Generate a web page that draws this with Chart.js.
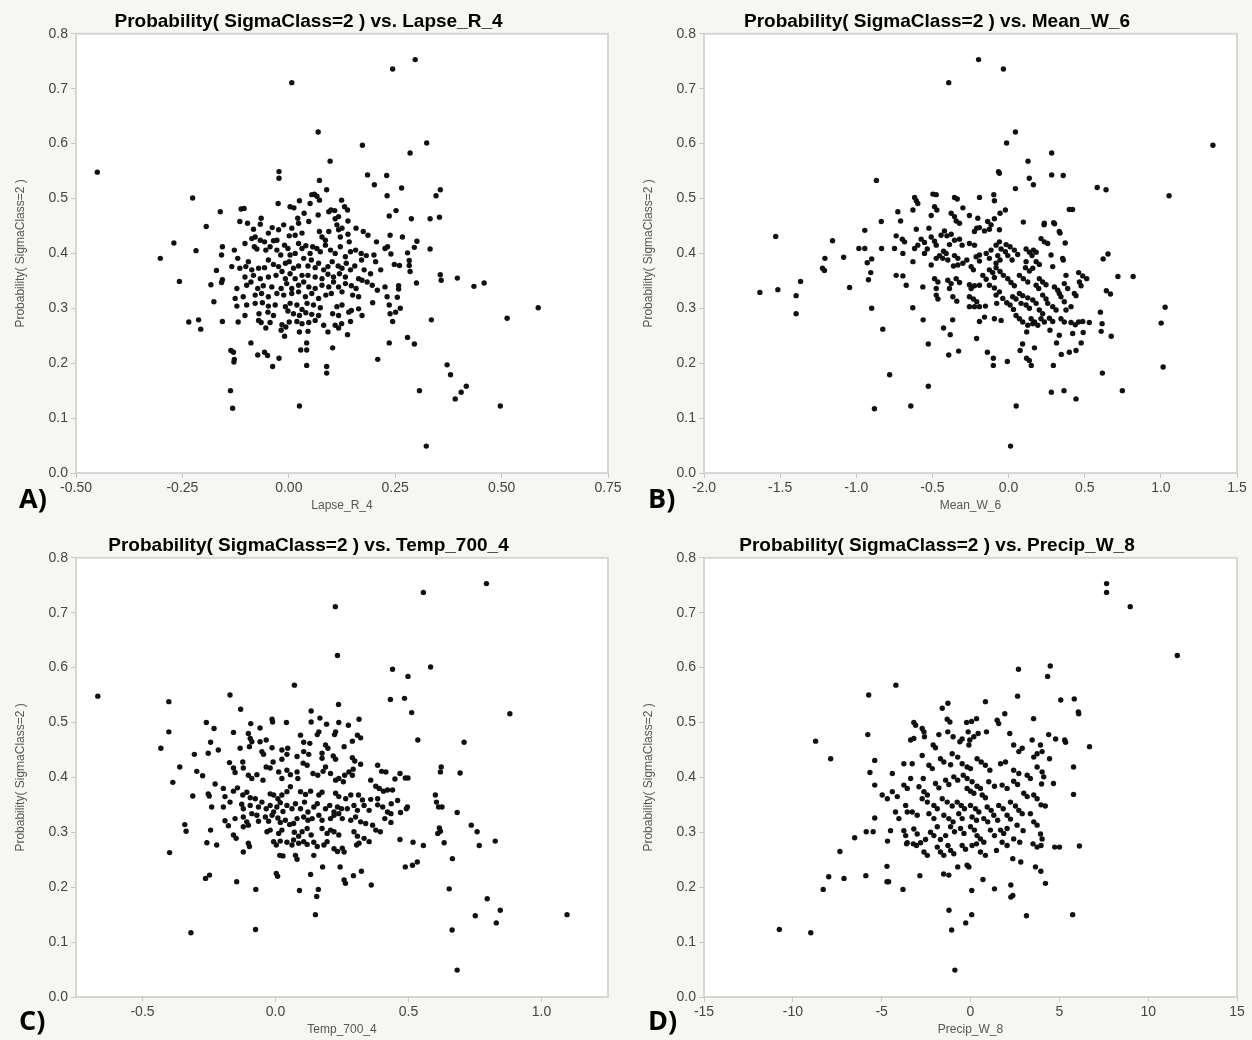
<!DOCTYPE html>
<html>
<head>
<meta charset="utf-8">
<script src="https://cdn.jsdelivr.net/npm/chart.js@4.4.1/dist/chart.umd.min.js"></script>
<style>
  body { margin: 0; background: #f6f6f2; }
  #page { position: relative; width: 1252px; height: 1040px; overflow: hidden; }
  .panel { position: absolute; width: 626px; height: 520px; }
  .tag { position: absolute; font: bold 27px "Open Sans", sans-serif; color: #000; line-height: 34px; }
</style>
</head>
<body>
<div id="page">
  <div class="panel" style="left:0;top:0"><canvas id="chartA" width="626" height="520"></canvas><div class="tag" style="left:19px;top:481px">A)</div></div>
  <div class="panel" style="left:626px;top:0"><canvas id="chartB" width="626" height="520"></canvas><div class="tag" style="left:22px;top:481px">B)</div></div>
  <div class="panel" style="left:0;top:524px"><canvas id="chartC" width="626" height="520"></canvas><div class="tag" style="left:19px;top:479px">C)</div></div>
  <div class="panel" style="left:626px;top:524px"><canvas id="chartD" width="626" height="520"></canvas><div class="tag" style="left:22px;top:479px">D)</div></div>
</div>
<script>
// [x, probability] pairs
const lapsePoints = [
  [-0.450,0.548],[0.007,0.711],[0.244,0.736],[0.297,0.753],[0.069,0.621],[0.173,0.597],[0.324,0.601],[0.285,0.583],[0.097,0.568],[-0.023,0.549],[-0.023,0.537],[0.072,0.533],[0.185,0.543],[0.230,0.542],[0.201,0.525],[0.265,0.519],[0.089,0.516],[0.231,0.505],[0.252,0.478],[0.356,0.516],[0.346,0.505],[0.354,0.466],[0.332,0.463],[0.288,0.463],[0.236,0.468],[0.238,0.433],[0.301,0.422],[0.332,0.408],[0.295,0.411],[0.279,0.401],[0.240,0.399],[0.356,0.361],[0.358,0.351],[0.396,0.355],[0.435,0.340],[0.459,0.346],[0.300,0.346],[0.283,0.387],[0.283,0.378],[0.285,0.367],[0.260,0.378],[0.258,0.341],[0.258,0.335],[0.255,0.320],[0.262,0.300],[0.236,0.306],[0.238,0.290],[0.244,0.276],[0.335,0.279],[0.586,0.301],[0.513,0.282],[0.279,0.247],[0.295,0.235],[0.236,0.237],[0.209,0.207],[0.372,0.197],[0.380,0.179],[0.307,0.150],[0.417,0.158],[0.405,0.147],[0.391,0.135],[0.497,0.122],[0.323,0.049],[0.025,0.122],[-0.137,0.150],[-0.132,0.118],[-0.136,0.223],[-0.130,0.220],[-0.128,0.207],[-0.129,0.202],[-0.089,0.237],[-0.073,0.215],[-0.057,0.220],[-0.050,0.214],[-0.038,0.194],[-0.023,0.209],[0.028,0.224],[0.042,0.224],[0.042,0.237],[0.042,0.196],[0.103,0.228],[0.089,0.194],[0.089,0.182],[-0.010,0.249],[-0.302,0.391],[-0.270,0.419],[-0.226,0.501],[-0.194,0.449],[-0.218,0.405],[-0.257,0.349],[-0.235,0.275],[-0.212,0.279],[-0.207,0.262],[-0.183,0.343],[-0.176,0.312],[-0.170,0.369],[-0.156,0.276],[-0.161,0.476],[-0.156,0.412],[-0.158,0.397],[-0.156,0.352],[-0.158,0.347],[0.267,0.430],[0.248,0.380],[0.251,0.293],
  [0.054,0.507],[0.060,0.508],[0.066,0.504],[-0.025,0.491],[0.025,0.496],[0.003,0.485],[-0.112,0.481],[-0.105,0.482],[0.012,0.483],[0.050,0.491],[0.072,0.497],[0.124,0.497],[0.131,0.485],[0.138,0.479],
  [-0.065,0.464],[0.036,0.473],[0.021,0.464],[0.069,0.470],[0.094,0.476],[0.099,0.479],[0.108,0.478],[0.109,0.463],[0.117,0.467],[-0.115,0.458],[-0.097,0.455],[-0.067,0.453],[0.023,0.455],[0.047,0.458],[-0.012,0.452],[0.139,0.459],[0.007,0.446],[-0.024,0.443],[-0.039,0.447],[0.113,0.452],[0.125,0.446],[0.158,0.446],[0.175,0.440],[0.186,0.433],
  [-0.083,0.444],[-0.079,0.430],[-0.087,0.427],[-0.048,0.437],[-0.067,0.424],[-0.057,0.421],[-0.036,0.423],[-0.028,0.424],[0.001,0.432],[0.015,0.433],[0.031,0.437],[0.072,0.440],[0.078,0.430],[0.086,0.424],[0.094,0.440],[0.117,0.443],[0.121,0.430],[0.142,0.421],[0.139,0.435],[0.206,0.421],[0.226,0.409],[0.232,0.412],
  [-0.128,0.406],[-0.120,0.391],[-0.103,0.418],[-0.081,0.412],[-0.075,0.408],[-0.054,0.406],[-0.044,0.412],[-0.028,0.406],[-0.019,0.397],[-0.010,0.415],[-0.002,0.409],[0.003,0.397],[0.015,0.400],[0.023,0.418],[0.031,0.409],[0.040,0.414],[0.050,0.400],[0.056,0.412],[0.066,0.409],[0.074,0.403],[0.086,0.415],[0.098,0.406],[0.109,0.400],[0.121,0.412],[0.133,0.394],[0.145,0.403],[0.157,0.406],[0.170,0.400],[0.182,0.396],[0.200,0.397],[0.204,0.385],[0.171,0.388],
  [-0.134,0.376],[-0.115,0.373],[-0.101,0.376],[-0.087,0.370],[-0.071,0.373],[-0.057,0.374],[-0.095,0.385],[-0.048,0.388],[-0.036,0.380],[-0.024,0.376],[-0.016,0.367],[-0.008,0.382],[0.001,0.385],[0.011,0.373],[0.023,0.377],[0.035,0.391],[0.045,0.377],[0.053,0.388],[0.062,0.374],[0.070,0.382],[0.082,0.370],[0.092,0.376],[0.102,0.385],[0.116,0.377],[0.125,0.373],[0.135,0.382],[0.145,0.370],[0.155,0.377],[0.177,0.370],[0.192,0.363],[0.216,0.370],
  [-0.103,0.357],[-0.083,0.360],[-0.067,0.354],[-0.048,0.357],[-0.030,0.360],[-0.008,0.354],[0.003,0.363],[0.015,0.354],[0.031,0.360],[0.045,0.360],[0.062,0.357],[0.078,0.354],[0.092,0.362],[0.105,0.357],[0.119,0.363],[0.133,0.357],[0.164,0.354],[0.184,0.348],
  [-0.122,0.336],[-0.099,0.342],[-0.089,0.348],[-0.073,0.336],[-0.060,0.341],[-0.040,0.339],[-0.018,0.336],[-0.005,0.345],[0.007,0.336],[0.023,0.342],[0.035,0.348],[0.047,0.339],[0.062,0.336],[0.078,0.342],[0.094,0.339],[0.105,0.348],[0.117,0.339],[0.133,0.345],[0.147,0.341],[0.158,0.336],[0.172,0.351],[0.196,0.342],[0.208,0.333],[0.226,0.339],
  [-0.126,0.318],[-0.107,0.321],[-0.079,0.324],[-0.064,0.327],[-0.048,0.321],[-0.028,0.327],[-0.012,0.324],[0.007,0.327],[0.023,0.330],[0.039,0.321],[0.054,0.327],[0.070,0.318],[0.087,0.324],[0.100,0.327],[0.125,0.330],[0.150,0.324],[0.164,0.321],[0.231,0.321],
  [-0.122,0.304],[-0.099,0.306],[-0.079,0.309],[-0.062,0.310],[-0.048,0.304],[-0.032,0.306],[-0.008,0.303],[0.003,0.309],[0.019,0.306],[0.031,0.298],[0.043,0.309],[0.058,0.306],[0.074,0.301],[0.113,0.303],[0.125,0.306],[0.147,0.296],[0.164,0.299],[0.197,0.310],
  [-0.103,0.287],[-0.070,0.290],[-0.049,0.293],[-0.036,0.287],[-0.002,0.295],[0.011,0.290],[0.025,0.287],[0.040,0.292],[0.054,0.289],[0.070,0.287],[0.103,0.290],[0.117,0.287],[0.141,0.293],[0.172,0.287],
  [-0.119,0.275],[-0.071,0.278],[-0.065,0.274],[-0.044,0.274],[-0.016,0.270],[0.001,0.275],[0.019,0.276],[0.031,0.272],[0.047,0.274],[0.062,0.278],[0.082,0.269],[0.109,0.269],[0.124,0.272],[0.145,0.276],
  [-0.054,0.264],[-0.018,0.260],[-0.007,0.266],[0.025,0.257],[0.045,0.258],[0.092,0.257],[0.117,0.264],[0.138,0.252]
];

const meanWPoints = [
  [-1.633,0.329],[-1.529,0.431],[-1.515,0.334],[-1.395,0.323],[-1.395,0.290],[-1.366,0.349],[-1.222,0.373],[-1.209,0.369],[-1.206,0.391],[-1.156,0.423],[-1.083,0.393],[-1.044,0.338],[-0.983,0.409],[-0.944,0.409],[-0.944,0.442],[-0.928,0.383],[-0.899,0.390],[-0.899,0.300],[-0.905,0.365],[-0.920,0.352],[-0.868,0.533],[-0.881,0.117],[-0.826,0.262],[-0.781,0.179],[-0.642,0.122],[-0.527,0.158],[-0.527,0.235],[-0.561,0.279],[-0.629,0.301],[-0.427,0.264],[-0.383,0.252],[-0.393,0.215],[-0.328,0.222],[-0.367,0.279],[-0.393,0.711],[-0.197,0.753],[-0.034,0.736],[0.045,0.621],[-0.013,0.601],[0.283,0.583],[0.128,0.568],[-0.066,0.549],[-0.060,0.546],[0.136,0.537],[0.163,0.525],[0.283,0.543],[0.359,0.542],[0.045,0.518],[0.582,0.520],[0.640,0.516],[1.054,0.505],[1.342,0.597],[0.399,0.480],[0.420,0.480],[0.233,0.452],[0.302,0.454],[0.338,0.437],[0.372,0.419],[0.359,0.388],[0.621,0.390],[0.653,0.399],[0.718,0.358],[0.818,0.358],[0.642,0.332],[0.669,0.326],[0.603,0.293],[0.614,0.272],[0.608,0.258],[0.674,0.249],[1.002,0.273],[1.028,0.302],[1.015,0.193],[0.616,0.182],[0.747,0.150],[0.443,0.135],[0.364,0.150],[0.281,0.147],[0.050,0.122],[0.013,0.049],[0.294,0.196],[0.346,0.216],[0.399,0.220],[0.443,0.223],[0.477,0.237],[0.490,0.256],[0.315,0.237],[0.170,0.228],[0.076,0.223],[0.092,0.235],[0.118,0.209],[0.136,0.205],[0.149,0.196],[-0.008,0.203],[-0.100,0.209],[-0.100,0.196],[-0.139,0.220],[-0.210,0.245],[-0.191,0.276],
  [-0.497,0.508],[-0.475,0.507],[-0.617,0.502],[-0.606,0.496],[-0.596,0.491],[-0.727,0.476],[-0.628,0.479],[-0.709,0.459],[-0.355,0.502],[-0.337,0.499],[-0.191,0.502],[-0.097,0.507],[-0.093,0.496],[-0.486,0.485],[-0.471,0.479],[-0.508,0.469],[-0.377,0.473],[-0.355,0.467],[-0.344,0.459],[-0.322,0.455],[-0.257,0.469],[-0.300,0.483],[-0.202,0.464],[-0.209,0.446],[-0.224,0.440],[-0.137,0.458],[-0.115,0.452],[-0.126,0.444],[-0.093,0.463],[-0.056,0.473],[-0.021,0.479],[-0.191,0.447],[-0.158,0.441],[-0.060,0.443],[0.097,0.457],[0.235,0.455],[0.296,0.456],[0.333,0.440],[0.213,0.427],[0.235,0.421],[0.257,0.418],
  [-0.606,0.444],[-0.523,0.446],[-0.738,0.432],[-0.698,0.426],[-0.683,0.421],[-0.574,0.426],[-0.552,0.420],[-0.508,0.430],[-0.486,0.422],[-0.475,0.415],[-0.443,0.433],[-0.421,0.441],[-0.405,0.432],[-0.377,0.435],[-0.355,0.424],[-0.388,0.416],[-0.322,0.426],[-0.305,0.415],[-0.257,0.418],[-0.224,0.415],[-0.836,0.458],[-0.834,0.409],[-0.749,0.409],
  [-0.694,0.400],[-0.617,0.409],[-0.596,0.415],[-0.628,0.385],[-0.552,0.400],[-0.534,0.408],[-0.508,0.379],[-0.475,0.391],[-0.453,0.396],[-0.427,0.404],[-0.410,0.400],[-0.432,0.391],[-0.399,0.388],[-0.355,0.396],[-0.333,0.391],[-0.362,0.377],[-0.333,0.379],[-0.300,0.382],[-0.274,0.388],[-0.246,0.376],[-0.231,0.370],[-0.213,0.394],[-0.191,0.397],[-0.191,0.386],[-0.147,0.400],[-0.115,0.406],[-0.126,0.391],[-0.082,0.415],[-0.060,0.421],[-0.049,0.408],[-0.016,0.416],[0.010,0.412],[-0.021,0.403],[0.038,0.406],[0.060,0.398],[-0.071,0.396],[-0.056,0.388],[-0.082,0.382],[-0.005,0.396],[0.023,0.388],[0.115,0.408],[0.137,0.402],[0.154,0.396],[0.163,0.406],[0.181,0.402],[0.115,0.385],[0.279,0.397],[0.181,0.385],[0.202,0.380],[0.290,0.376],[0.355,0.391],
  [-0.738,0.360],[-0.694,0.359],[-0.672,0.342],[-0.563,0.339],[-0.486,0.354],[-0.464,0.348],[-0.475,0.336],[-0.399,0.351],[-0.377,0.345],[-0.388,0.336],[-0.344,0.354],[-0.322,0.347],[-0.257,0.343],[-0.246,0.336],[-0.224,0.341],[-0.169,0.360],[-0.147,0.353],[-0.191,0.342],[-0.126,0.370],[-0.104,0.365],[-0.093,0.356],[-0.082,0.374],[-0.056,0.367],[-0.034,0.360],[-0.126,0.342],[-0.093,0.337],[-0.060,0.330],[-0.005,0.354],[0.016,0.347],[0.038,0.341],[0.071,0.360],[0.097,0.354],[0.126,0.348],[0.111,0.374],[0.137,0.368],[0.159,0.373],[0.202,0.354],[0.224,0.348],[0.246,0.343],[0.181,0.342],[0.198,0.336],[0.301,0.339],[0.323,0.333],[0.333,0.327],[0.366,0.345],[0.388,0.336],[0.460,0.365],[0.487,0.359],[0.513,0.354],[0.465,0.348],[0.476,0.341],[0.432,0.327],[0.443,0.323],[0.377,0.360],
  [-0.257,0.321],[-0.231,0.317],[-0.209,0.312],[-0.257,0.303],[-0.224,0.303],[-0.191,0.303],[-0.152,0.304],[-0.082,0.324],[-0.078,0.309],[-0.038,0.318],[-0.012,0.310],[0.027,0.321],[0.049,0.317],[0.010,0.306],[0.032,0.298],[0.071,0.327],[0.093,0.323],[0.126,0.319],[0.082,0.309],[0.115,0.306],[0.137,0.300],[0.159,0.315],[0.181,0.309],[0.224,0.324],[0.246,0.317],[0.257,0.309],[0.202,0.297],[0.224,0.290],[0.290,0.303],[0.312,0.297],[0.344,0.321],[0.366,0.312],[0.377,0.297],[0.410,0.303],
  [0.049,0.287],[0.071,0.281],[0.093,0.275],[0.148,0.281],[0.170,0.275],[0.192,0.269],[0.213,0.281],[0.235,0.275],[0.126,0.269],[0.159,0.272],[0.268,0.282],[0.290,0.276],[0.344,0.281],[0.366,0.275],[0.410,0.274],[0.438,0.270],[0.460,0.275],[0.487,0.276],[0.530,0.274],[0.421,0.254],[0.272,0.260],[0.333,0.251],[0.119,0.257],[-0.158,0.284],[-0.093,0.281],[-0.049,0.278],[-0.475,0.324],[-0.464,0.317],[-0.366,0.321],[-0.340,0.313]
];

const tempPoints = [
  [-0.668,0.548],[-0.401,0.538],[-0.401,0.483],[-0.431,0.453],[-0.360,0.419],[-0.386,0.391],[-0.398,0.263],[-0.318,0.117],[-0.341,0.314],[-0.336,0.302],[-0.311,0.366],[-0.305,0.442],[-0.296,0.411],[-0.260,0.500],[-0.258,0.281],[-0.263,0.216],[-0.248,0.222],[-0.075,0.123],[-0.074,0.196],[-0.146,0.210],[-0.171,0.550],[-0.131,0.524],[0.071,0.568],[0.225,0.711],[0.233,0.622],[0.237,0.533],[0.556,0.737],[0.793,0.753],[0.440,0.597],[0.498,0.584],[0.583,0.601],[0.432,0.542],[0.485,0.544],[0.512,0.518],[0.535,0.468],[0.709,0.464],[0.881,0.516],[0.694,0.408],[0.623,0.419],[0.620,0.410],[0.601,0.368],[0.605,0.355],[0.613,0.346],[0.626,0.346],[0.683,0.336],[0.616,0.308],[0.620,0.302],[0.610,0.298],[0.634,0.281],[0.556,0.276],[0.517,0.282],[0.468,0.287],[0.488,0.237],[0.515,0.240],[0.533,0.246],[0.665,0.252],[0.736,0.313],[0.758,0.301],[0.766,0.276],[0.826,0.284],[0.653,0.197],[0.796,0.179],[0.751,0.148],[0.845,0.158],[0.830,0.135],[0.664,0.122],[0.683,0.049],[1.096,0.150],[0.360,0.204],[0.323,0.229],[0.293,0.221],[0.258,0.213],[0.263,0.207],[0.243,0.237],[0.177,0.237],[0.161,0.196],[0.155,0.183],[0.150,0.150],[0.090,0.194],[0.132,0.223],[0.468,0.407],[0.488,0.399],[0.498,0.399],[0.492,0.343],[0.496,0.346],[0.470,0.336],[0.435,0.352],[0.003,0.225],[0.008,0.220],
  [-0.231,0.489],[-0.158,0.482],[-0.093,0.498],[-0.058,0.490],[-0.013,0.506],[-0.011,0.501],[0.041,0.500],[0.134,0.521],[0.134,0.501],[0.167,0.508],[0.192,0.497],[0.238,0.500],[0.274,0.495],[0.314,0.506],[0.308,0.477],[0.320,0.472],[0.289,0.466],[0.226,0.483],[0.222,0.478],[0.163,0.483],[0.157,0.478],[0.094,0.477],[0.106,0.464],[0.129,0.462],[-0.102,0.480],[-0.095,0.471],[-0.089,0.465],[-0.058,0.465],[-0.035,0.468],[-0.133,0.453],[-0.098,0.456],[-0.051,0.447],[-0.045,0.442],[-0.244,0.464],[-0.253,0.444],[-0.215,0.450],[-0.013,0.454],[0.024,0.450],[0.046,0.453],[0.043,0.442],[0.081,0.438],[0.106,0.447],[0.125,0.442],[0.188,0.459],[0.197,0.453],[0.175,0.444],[0.175,0.435],[0.217,0.439],[0.226,0.433],[0.258,0.456],[0.289,0.436],[0.298,0.430],[0.320,0.424],
  [-0.274,0.403],[-0.227,0.388],[-0.173,0.427],[-0.158,0.417],[-0.152,0.409],[-0.123,0.428],[-0.121,0.417],[-0.102,0.404],[-0.089,0.398],[-0.070,0.405],[-0.047,0.395],[-0.035,0.419],[-0.020,0.417],[-0.009,0.428],[0.024,0.433],[0.012,0.410],[0.043,0.413],[0.056,0.405],[0.081,0.410],[0.084,0.398],[0.024,0.398],[0.104,0.426],[0.119,0.422],[0.141,0.407],[0.159,0.404],[0.179,0.411],[0.188,0.419],[0.207,0.407],[0.226,0.395],[0.238,0.398],[0.255,0.392],[0.260,0.404],[0.276,0.410],[0.292,0.415],[0.289,0.404],[0.358,0.395],[0.377,0.384],[0.390,0.380],[0.384,0.422],[0.399,0.411],[0.415,0.410],[0.449,0.397],[0.406,0.375],[0.421,0.377],[0.440,0.377],[0.459,0.358],[0.358,0.360],[0.384,0.361],
  [-0.253,0.370],[-0.249,0.366],[-0.196,0.380],[-0.190,0.365],[-0.158,0.375],[-0.143,0.381],[-0.123,0.368],[-0.108,0.373],[-0.095,0.363],[-0.076,0.361],[-0.020,0.370],[-0.007,0.368],[0.009,0.361],[0.024,0.368],[0.043,0.374],[0.056,0.383],[0.094,0.374],[0.113,0.369],[0.132,0.375],[0.163,0.368],[0.175,0.373],[0.226,0.371],[0.238,0.365],[0.264,0.361],[0.283,0.368],[0.312,0.368],[0.327,0.359],
  [-0.240,0.346],[-0.196,0.346],[-0.171,0.355],[-0.127,0.351],[-0.121,0.343],[-0.095,0.349],[-0.089,0.334],[-0.064,0.346],[-0.051,0.355],[-0.035,0.343],[-0.020,0.349],[-0.007,0.337],[0.005,0.346],[0.018,0.354],[0.028,0.338],[0.043,0.349],[0.062,0.343],[0.075,0.352],[0.094,0.343],[0.109,0.355],[0.122,0.337],[0.144,0.346],[0.157,0.352],[0.188,0.343],[0.204,0.349],[0.220,0.337],[0.233,0.346],[0.248,0.343],[0.270,0.343],[0.295,0.349],[0.308,0.340],[0.333,0.349],[0.352,0.340],[0.384,0.350],[0.403,0.346],[0.421,0.337],[0.434,0.334],
  [-0.190,0.321],[-0.177,0.312],[-0.152,0.325],[-0.121,0.328],[-0.108,0.319],[-0.070,0.331],[-0.064,0.320],[-0.038,0.328],[-0.026,0.320],[-0.013,0.331],[0.009,0.326],[0.018,0.318],[0.037,0.322],[0.053,0.314],[0.068,0.316],[0.081,0.325],[0.106,0.328],[0.122,0.322],[0.138,0.325],[0.163,0.331],[0.175,0.322],[0.207,0.325],[0.220,0.331],[0.238,0.334],[0.251,0.325],[0.283,0.322],[0.301,0.328],[0.320,0.319],[0.339,0.316],[0.365,0.313],[0.377,0.304],[0.394,0.301],[0.411,0.325],[0.434,0.318],
  [-0.244,0.304],[-0.221,0.277],[-0.121,0.310],[-0.102,0.313],[-0.032,0.301],[-0.020,0.304],[0.012,0.298],[0.024,0.304],[0.071,0.300],[0.087,0.293],[0.100,0.301],[0.119,0.307],[0.134,0.295],[0.175,0.307],[0.194,0.298],[0.207,0.304],[0.220,0.301],[0.238,0.295],[0.295,0.301],[0.308,0.293],
  [-0.102,0.280],[-0.098,0.274],[-0.007,0.283],[0.003,0.277],[0.018,0.284],[0.043,0.282],[0.062,0.277],[0.068,0.286],[0.087,0.280],[0.106,0.283],[0.119,0.278],[0.144,0.282],[0.157,0.274],[0.182,0.277],[0.194,0.283],[0.220,0.270],[0.233,0.265],[0.251,0.271],[0.258,0.264],[0.305,0.277],[0.314,0.280],[0.333,0.289],[0.352,0.283],[0.016,0.258],[0.028,0.257],[0.075,0.258],[0.081,0.251],[0.144,0.258],[-0.121,0.264],[-0.158,0.295],[-0.148,0.289]
];

const precipPoints = [
  [-10.76,0.123],[-8.99,0.117],[-8.72,0.466],[-7.87,0.434],[-8.29,0.196],[-7.98,0.219],[-7.35,0.265],[-7.12,0.216],[-6.52,0.290],[-5.89,0.221],[-5.87,0.301],[-5.48,0.301],[-5.78,0.478],[-5.73,0.550],[-5.66,0.409],[-5.39,0.431],[-5.39,0.386],[-5.39,0.326],[-4.67,0.284],[-4.70,0.238],[-4.70,0.210],[-4.61,0.210],[-4.20,0.568],[-3.80,0.196],[-2.85,0.221],[-1.51,0.224],[-1.21,0.158],[-1.06,0.122],[-0.88,0.049],[-0.27,0.135],[0.07,0.150],[0.07,0.194],[-0.72,0.237],[-0.09,0.237],[0.70,0.214],[1.35,0.197],[2.27,0.204],[2.27,0.182],[2.38,0.185],[3.15,0.148],[4.22,0.207],[3.66,0.237],[3.96,0.229],[2.38,0.252],[2.83,0.246],[5.75,0.150],[6.13,0.275],[4.74,0.273],[5.01,0.273],[5.80,0.369],[5.80,0.419],[6.70,0.456],[5.30,0.468],[5.35,0.464],[4.79,0.470],[4.45,0.434],[4.40,0.478],[3.55,0.507],[5.08,0.541],[5.84,0.543],[6.07,0.519],[6.09,0.516],[4.49,0.603],[4.34,0.584],[2.70,0.597],[2.65,0.548],[7.66,0.753],[7.66,0.737],[8.99,0.711],[11.64,0.622],[4.00,0.388],[4.67,0.389],
  [-1.27,0.535],[-1.59,0.526],[0.84,0.538],[1.93,0.516],[-3.19,0.500],[-3.09,0.495],[-2.72,0.489],[-2.62,0.483],[-1.31,0.506],[-1.16,0.501],[-0.22,0.500],[0.06,0.502],[0.34,0.507],[-0.13,0.483],[1.50,0.504],[1.59,0.498],[0.90,0.483],[2.21,0.480],[-3.37,0.468],[-3.19,0.471],[-2.59,0.474],[-2.10,0.459],[-1.97,0.454],[-1.78,0.478],[-1.28,0.483],[-0.98,0.474],[-0.60,0.465],[-0.47,0.470],[-0.04,0.468],[-0.09,0.459],[0.19,0.474],[0.43,0.480],[2.43,0.459],[2.72,0.447],[2.91,0.453],[3.47,0.468],[3.94,0.459],[4.03,0.447],
  [-3.75,0.425],[-3.28,0.425],[-4.40,0.407],[-2.72,0.440],[-2.66,0.398],[-2.34,0.422],[-2.15,0.416],[-1.69,0.434],[-1.50,0.428],[-1.03,0.443],[-0.72,0.437],[-1.12,0.423],[-0.47,0.425],[-0.19,0.419],[0.00,0.416],[0.37,0.434],[0.60,0.428],[0.84,0.422],[1.09,0.413],[1.69,0.425],[1.97,0.428],[2.43,0.413],[2.72,0.407],[3.19,0.404],[3.37,0.398],[3.75,0.419],[4.03,0.410],[4.12,0.401],
  [-4.97,0.368],[-4.68,0.361],[-4.40,0.374],[-4.12,0.365],[-3.75,0.386],[-3.56,0.380],[-3.37,0.398],[-2.90,0.383],[-2.62,0.374],[-2.43,0.368],[-1.97,0.389],[-1.78,0.381],[-1.40,0.395],[-1.22,0.387],[-0.94,0.401],[-0.72,0.395],[-0.41,0.404],[-0.19,0.398],[0.09,0.392],[0.37,0.384],[0.56,0.380],[-0.19,0.380],[0.00,0.375],[0.19,0.371],[0.66,0.368],[0.84,0.363],[1.03,0.392],[1.35,0.384],[1.78,0.386],[2.06,0.380],[2.43,0.393],[2.65,0.387],[3.00,0.371],[3.19,0.365],[3.56,0.368],[3.75,0.361],[3.97,0.350],[4.21,0.348],
  [-2.72,0.361],[-2.43,0.355],[-2.06,0.349],[-1.87,0.343],[-1.59,0.361],[-1.31,0.355],[-1.03,0.348],[-0.75,0.355],[-0.52,0.349],[-0.34,0.343],[0.00,0.349],[0.28,0.343],[0.47,0.337],[0.94,0.346],[1.16,0.340],[1.59,0.349],[1.84,0.343],[2.25,0.355],[2.53,0.348],[2.72,0.340],[2.91,0.334],[-3.65,0.349],[-3.56,0.337],[-4.22,0.337],[-4.03,0.325],[-3.28,0.337],[-3.00,0.331],[-2.34,0.334],[-2.06,0.325],[-1.50,0.331],[-1.22,0.325],[-0.98,0.319],[-0.66,0.334],[-0.47,0.325],[0.09,0.328],[0.34,0.322],[0.75,0.325],[0.97,0.319],[1.31,0.331],[1.53,0.322],[2.06,0.331],[2.25,0.324],[3.37,0.334],
  [-4.50,0.303],[-3.75,0.303],[-3.65,0.294],[-3.56,0.281],[-3.19,0.306],[-3.00,0.297],[-2.81,0.281],[-2.53,0.287],[-2.25,0.300],[-2.06,0.294],[-1.87,0.310],[-1.69,0.287],[-1.40,0.294],[-1.27,0.276],[-1.12,0.310],[-0.90,0.301],[-0.56,0.307],[-0.37,0.298],[0.00,0.310],[0.22,0.304],[0.37,0.294],[0.56,0.288],[0.75,0.282],[1.12,0.304],[1.35,0.294],[1.69,0.304],[1.87,0.298],[2.06,0.307],[2.62,0.313],[2.96,0.303],[3.52,0.279],[3.75,0.273],[3.97,0.276],[3.94,0.297],[4.03,0.288],
  [-1.87,0.273],[-1.69,0.264],[-1.50,0.258],[-1.12,0.267],[-0.94,0.261],[-0.47,0.276],[-0.28,0.269],[0.09,0.276],[0.34,0.279],[0.56,0.264],[0.84,0.258],[-2.62,0.264],[-2.43,0.258],[-3.22,0.279],[-3.04,0.276],[-3.60,0.279],[-0.19,0.240],[-1.22,0.222],[2.43,0.288],[2.77,0.282],[3.56,0.319],[3.75,0.313],[1.78,0.282],[2.06,0.276],[1.46,0.267],[3.56,0.437],[3.75,0.443]
];

const yTitle = 'Probability( SigmaClass=2 )';
const yTicks = { min: 0, max: 0.8, step: 0.1 };

Chart.defaults.font.family = "'Liberation Sans', Arial, sans-serif";

// white plot area with a light grey frame
const framePlugin = {
  id: 'frame',
  beforeDraw(chart) {
    const a = chart.chartArea, c = chart.ctx;
    c.save();
    c.fillStyle = '#ffffff';
    c.fillRect(a.left, a.top, a.right - a.left, a.bottom - a.top);
    c.strokeStyle = '#d6d6d6';
    c.lineWidth = 2;
    c.strokeRect(a.left, a.top, a.right - a.left, a.bottom - a.top);
    c.restore();
  }
};

function makePanel(id, points, xName, xAxis, padLeft, padRight) {
  const grid = { drawOnChartArea: false, drawTicks: true, tickLength: 5, tickColor: '#c8c8c8', lineWidth: 1 };
  const x = {
    type: 'linear', min: xAxis.min, max: xAxis.max,
    grid: grid, border: { display: false },
    ticks: { stepSize: xAxis.step, autoSkip: false, maxRotation: 0, color: '#444', font: { size: 14, lineHeight: 1 }, padding: 3,
             callback: v => Number(v).toFixed(xAxis.digits) },
    title: { display: true, text: xName, color: '#555', font: { size: 12 }, padding: { top: 1, bottom: 0 } },
    afterFit: s => { s.height = 40; }
  };
  if (xAxis.ticks) x.afterBuildTicks = s => { s.ticks = xAxis.ticks.map(v => ({ value: v })); };
  new Chart(document.getElementById(id), {
    type: 'scatter',
    data: { datasets: [{ data: points.map(p => ({ x: p[0], y: p[1] })), backgroundColor: '#111', borderWidth: 0, pointRadius: 2.7 }] },
    options: {
      responsive: false, animation: false, devicePixelRatio: 1,
      layout: { padding: { left: padLeft, right: padRight, top: 0, bottom: 7 } },
      plugins: {
        legend: { display: false }, tooltip: { enabled: false },
        title: { display: true, text: 'Probability( SigmaClass=2 ) vs. ' + xName, color: '#000',
                 font: { size: 19, weight: 'bold' }, padding: { top: 10, bottom: 1 } }
      },
      scales: {
        x: x,
        y: {
          min: yTicks.min, max: yTicks.max,
          grid: grid, border: { display: false },
          ticks: { stepSize: yTicks.step, color: '#444', font: { size: 14 }, padding: 3, callback: v => Number(v).toFixed(1) },
          title: { display: true, text: yTitle, color: '#555', font: { size: 12 }, padding: { top: 4, bottom: 0 } },
          afterFit: s => { s.width = 67; }
        }
      }
    },
    plugins: [framePlugin]
  });
}

makePanel('chartA', lapsePoints, 'Lapse_R_4', { min: -0.5, max: 0.75, step: 0.25, digits: 2 }, 9, 18);
makePanel('chartB', meanWPoints, 'Mean_W_6', { min: -2, max: 1.5, step: 0.5, digits: 1 }, 11, 15);
makePanel('chartC', tempPoints, 'Temp_700_4', { min: -0.75, max: 1.25, step: 0.5, digits: 1, ticks: [-0.5, 0, 0.5, 1] }, 9, 18);
makePanel('chartD', precipPoints, 'Precip_W_8', { min: -15, max: 15, step: 5, digits: 0 }, 11, 15);
</script>
</body>
</html>
